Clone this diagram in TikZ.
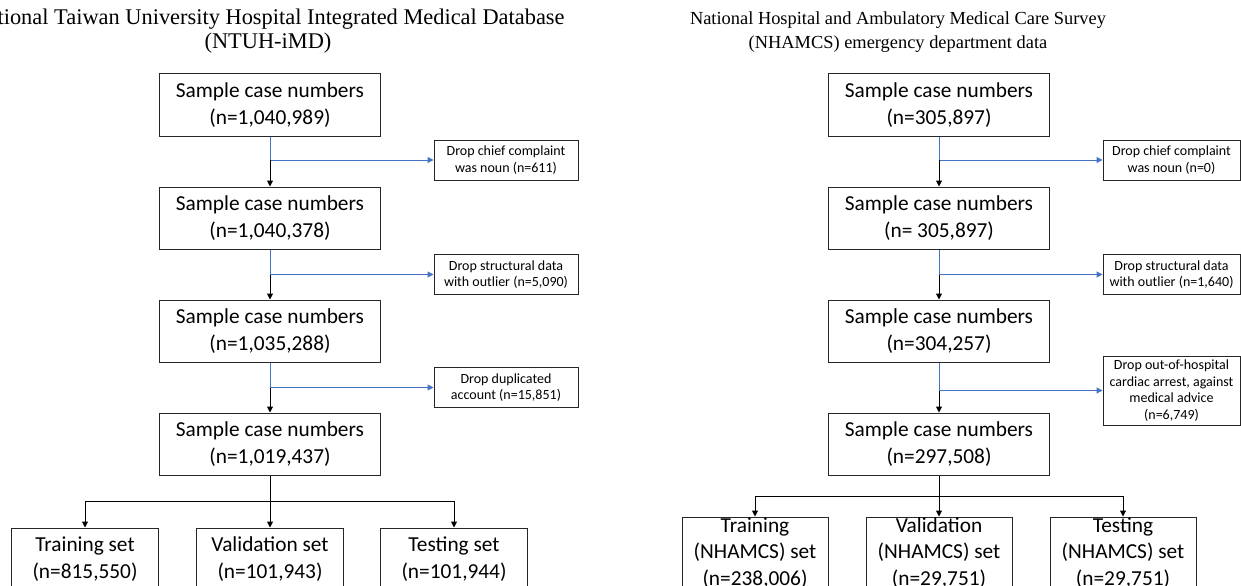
\documentclass[tikz,border=0pt]{standalone}
\usepackage{fontspec}
\setmainfont{Carlito}
\newfontfamily\titlefont{Liberation Serif}
\usetikzlibrary{arrows.meta}
\definecolor{flowblue}{RGB}{68,114,196}
\tikzset{every picture/.style={line width=0.75pt}}
\tikzset{
mainbox/.style={draw=black!85, align=center, inner sep=0pt, minimum width=165.75pt, minimum height=46.5pt, font=\fontsize{16}{20}\selectfont},
dropbox/.style={draw=black!85, align=center, inner sep=0pt, minimum width=108pt, minimum height=30pt, font=\fontsize{10.5}{12.5}\selectfont},
setbox/.style={draw=black!85, align=center, inner sep=0pt, minimum width=110.25pt, minimum height=46.5pt, font=\fontsize{16}{20}\selectfont},
titletext/.style={align=center, inner sep=0pt, font=\titlefont\fontsize{16.8}{17.5}\selectfont},
arr/.style={draw=black, -{Triangle[length=4.5pt,width=4.5pt]}},
bluearr/.style={draw=flowblue, -{Triangle[length=4.5pt,width=4.5pt]}}
}

\begin{document}
\begin{tikzpicture}[x=0.75pt,y=0.75pt,yscale=-1,xscale=1]
\useasboundingbox (0,0) rectangle (1241,585);

%Titles
\node[titletext] (ttl) at (268,31) {National Taiwan University Hospital Integrated Medical Database\\(NTUH-iMD)};
\node[titletext, font=\titlefont\fontsize{13.8}{17.5}\selectfont] (ttr) at (898,32) {National Hospital and Ambulatory Medical Care Survey\\(NHAMCS) emergency department data};

%Left flow: NTUH-iMD
\node[mainbox] (a1) at (270,105) {Sample case numbers\\(n=1,040,989)};
\node[mainbox] (a2) at (270,218) {Sample case numbers\\(n=1,040,378)};
\node[mainbox] (a3) at (270,331) {Sample case numbers\\(n=1,035,288)};
\node[mainbox] (a4) at (270,444) {Sample case numbers\\(n=1,019,437)};
\node[dropbox] (ad1) at (506,160) {Drop chief complaint\\was noun (n=611)};
\node[dropbox] (ad2) at (506,274.5) {Drop structural data\\with outlier (n=5,090)};
\node[dropbox] (ad3) at (506,387.5) {Drop duplicated\\account (n=15,851)};
\node[setbox] (atr) at (85,559) {Training set\\(n=815,550)};
\node[setbox] (ava) at (270,559) {Validation set\\(n=101,943)};
\node[setbox] (ate) at (454,559) {Testing set\\(n=101,944)};

\coordinate (aj1) at (a1.south |- ad1.west);
\coordinate (aj2) at (a2.south |- ad2.west);
\coordinate (aj3) at (a3.south |- ad3.west);
\coordinate (ak) at (270,501);

\draw[flowblue] (a1.south) -- (aj1);
\draw[bluearr] (aj1) -- (ad1.west);
\draw[arr] (aj1) -- (a2.north);
\draw[flowblue] (a2.south) -- (aj2);
\draw[bluearr] (aj2) -- (ad2.west);
\draw[arr] (aj2) -- (a3.north);
\draw[flowblue] (a3.south) -- (aj3);
\draw[bluearr] (aj3) -- (ad3.west);
\draw[arr] (aj3) -- (a4.north);
\draw (a4.south) -- (ak);
\draw[arr] (ak) -- (ava.north);
\draw[arr] (ak) -| (atr.north);
\draw[arr] (ak) -| (ate.north);

%Right flow: NHAMCS
\node[mainbox] (b1) at (939,105) {Sample case numbers\\(n=305,897)};
\node[mainbox] (b2) at (939,218) {Sample case numbers\\(n= 305,897)};
\node[mainbox] (b3) at (939,331) {Sample case numbers\\(n=304,257)};
\node[mainbox] (b4) at (939,444) {Sample case numbers\\(n=297,508)};
\node[dropbox, minimum width=102.75pt] (bd1) at (1171.5,160) {Drop chief complaint\\was noun (n=0)};
\node[dropbox, minimum width=102.75pt] (bd2) at (1171.5,274.5) {Drop structural data\\with outlier (n=1,640)};
\node[dropbox, minimum width=102.75pt, minimum height=51.75pt] (bd3) at (1171.5,390.5) {Drop out-of-hospital\\cardiac arrest, against\\medical advice\\(n=6,749)};
\node[setbox, minimum width=109.5pt, minimum height=54pt] (btr) at (755,553) {Training\\(NHAMCS) set\\(n=238,006)};
\node[setbox, minimum width=109.5pt, minimum height=54pt] (bva) at (939,553) {Validation\\(NHAMCS) set\\(n=29,751)};
\node[setbox, minimum width=109.5pt, minimum height=54pt] (bte) at (1123,553) {Testing\\(NHAMCS) set\\(n=29,751)};

\coordinate (bj1) at (b1.south |- bd1.west);
\coordinate (bj2) at (b2.south |- bd2.west);
\coordinate (bj3) at (b3.south |- bd3.west);
\coordinate (bk) at (939,496);

\draw[flowblue] (b1.south) -- (bj1);
\draw[bluearr] (bj1) -- (bd1.west);
\draw[arr] (bj1) -- (b2.north);
\draw[flowblue] (b2.south) -- (bj2);
\draw[bluearr] (bj2) -- (bd2.west);
\draw[arr] (bj2) -- (b3.north);
\draw[flowblue] (b3.south) -- (bj3);
\draw[bluearr] (bj3) -- (bd3.west);
\draw[arr] (bj3) -- (b4.north);
\draw (b4.south) -- (bk);
\draw[arr] (bk) -- (bva.north);
\draw[arr] (bk) -| (btr.north);
\draw[arr] (bk) -| (bte.north);
\end{tikzpicture}
\end{document}
